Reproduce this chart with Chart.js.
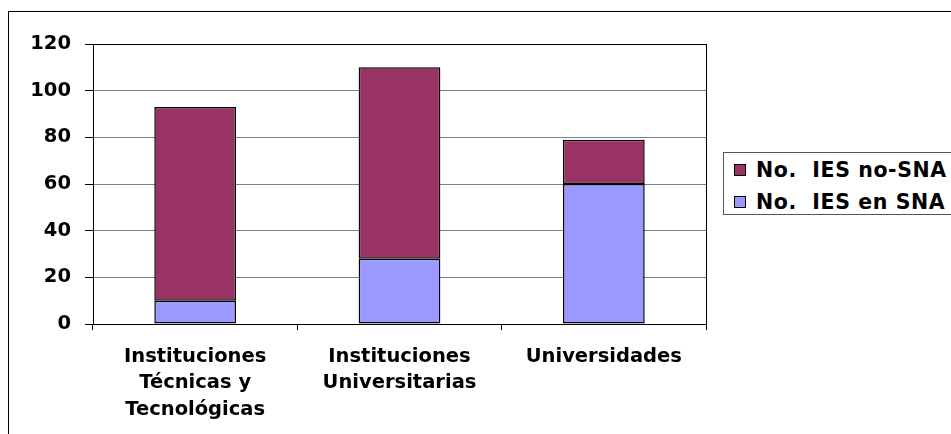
<!DOCTYPE html>
<html>
<head>
<meta charset="utf-8">
<script src="https://cdn.jsdelivr.net/npm/chart.js@4"></script>
<style>
  html, body { margin: 0; padding: 0; background: #fff; overflow: hidden; }
  #wrap { position: relative; width: 951px; height: 434px; }
  #frame { position: absolute; left: 8px; top: 11px; width: 1000px; height: 500px;
           border-left: 1px solid #000; border-top: 1px solid #000; }
  #chart { position: absolute; left: 0; top: 0; }
  #legend { position: absolute; left: 723px; top: 152px; width: 260px; height: 63px;
            border: 1px solid #555; background: #fff; box-sizing: border-box;
            font: bold 20.5px "DejaVu Sans", sans-serif; letter-spacing: 0.6px; color: #000; }
  .item { position: absolute; left: 10px; height: 24px; display: flex; align-items: center; white-space: pre; }
  .swatch { width: 10px; height: 10px; border: 1px solid #000; margin-right: 10px; flex: none; }
</style>
</head>
<body>
<div id="wrap">
  <div id="frame"></div>
  <canvas id="chart" width="951" height="434"></canvas>
  <div id="legend"></div>
</div>
<script>
"use strict";

// ── Data ─────────────────────────────────────────────────────────────────────
const CATEGORIES = [
  ["Instituciones", "Técnicas y", "Tecnológicas"],
  ["Instituciones", "Universitarias"],
  "Universidades",
];
const SERIES_NAMES = ["No.  IES en SNA", "No.  IES no-SNA"];
const EN_SNA = [10, 28, 60];
const NO_SNA = [83, 82, 19];
const Y_TICKS = { min: 0, max: 120, step: 20 };

const COLORS = ["#9999ff", "#993366"];
const FONT = { family: '"DejaVu Sans", sans-serif', size: 19.5, weight: "bold", lineHeight: 1.38 };

// Plot area border (top + right lines of the Excel-style box)
const plotBorder = {
  id: "plotBorder",
  afterDraw(chart) {
    const { ctx, chartArea: a } = chart;
    ctx.save();
    ctx.strokeStyle = "#000";
    ctx.lineWidth = 1;
    ctx.strokeRect(Math.round(a.left) + 0.5, Math.round(a.top) + 0.5,
                   Math.round(a.right - a.left), Math.round(a.bottom - a.top));
    ctx.restore();
  },
};

new Chart(document.getElementById("chart"), {
  type: "bar",
  data: {
    labels: CATEGORIES,
    datasets: [
      { label: SERIES_NAMES[0], data: EN_SNA, backgroundColor: COLORS[0] },
      { label: SERIES_NAMES[1], data: NO_SNA, backgroundColor: COLORS[1] },
    ].map(d => Object.assign(d, {
      borderColor: "#000", borderWidth: 1.5, borderSkipped: false,
      categoryPercentage: 1, barPercentage: 0.4,
    })),
  },
  options: {
    responsive: false,
    animation: false,
    layout: { padding: { left: 0, top: 44, right: 245, bottom: 0 } },
    plugins: { legend: { display: false }, tooltip: { enabled: false } },
    scales: {
      x: {
        stacked: true,
        afterFit: s => { s.height = 110; },
        grid: { offset: true, drawOnChartArea: false, tickLength: 6, tickColor: "#000" },
        border: { color: "#000", width: 1 },
        ticks: { color: "#000", font: FONT, padding: 13, maxRotation: 0, autoSkip: false },
      },
      y: {
        stacked: true,
        min: Y_TICKS.min, max: Y_TICKS.max,
        afterFit: s => { s.width = 93; },
        grid: { color: "#808080", tickColor: "#000", tickLength: 8 },
        border: { color: "#000", width: 1 },
        ticks: { stepSize: Y_TICKS.step, color: "#000", font: FONT, padding: 14 },
      },
    },
  },
  plugins: [plotBorder],
});

// ── Legend (top entry = top of the stack) ──
const legend = document.getElementById("legend");
[1, 0].forEach((i, row) => {
  const el = document.createElement("div");
  el.className = "item";
  el.style.top = (5 + row * 32) + "px";
  el.innerHTML = `<span class="swatch" style="background:${COLORS[i]}"></span>${SERIES_NAMES[i]}`;
  legend.appendChild(el);
});
</script>
</body>
</html>
